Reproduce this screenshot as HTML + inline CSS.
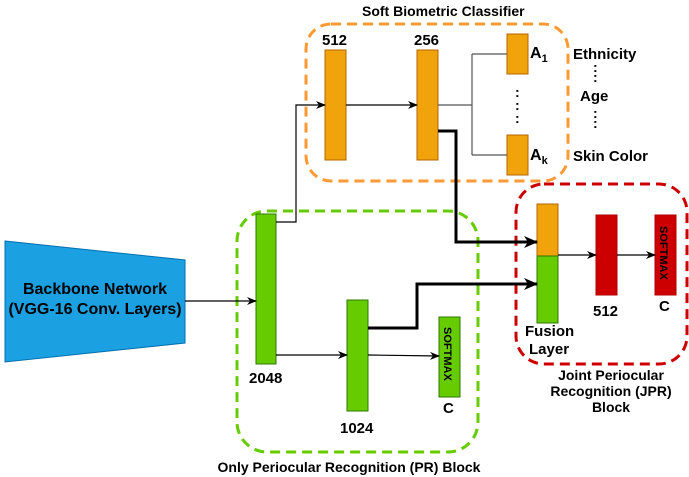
<!DOCTYPE html>
<html><head><style>body{margin:0;background:#fff}svg{display:block;font-family:"Liberation Sans",sans-serif;font-weight:bold}</style></head><body>
<svg width="689" height="477" viewBox="0 0 689 477" xmlns="http://www.w3.org/2000/svg">
<defs><marker id="a" markerWidth="10" markerHeight="8" refX="9" refY="4" orient="auto" markerUnits="userSpaceOnUse"><path d="M0,0 L10,4 L0,8 L3,4z" fill="#000"/></marker>
<marker id="b" markerWidth="14" markerHeight="12" refX="13" refY="6" orient="auto" markerUnits="userSpaceOnUse"><path d="M0,0 L14,6 L0,12 L4,6z" fill="#000"/></marker></defs>
<rect x="306" y="24" width="262" height="157" rx="25" fill="none" stroke="#ff9933" stroke-width="3" stroke-dasharray="10,6"/>
<rect x="237" y="211" width="241" height="241" rx="30" fill="none" stroke="#66cc00" stroke-width="3" stroke-dasharray="10,6"/>
<rect x="516" y="184" width="171" height="180" rx="28" fill="none" stroke="#cc0000" stroke-width="3" stroke-dasharray="10,6"/>
<polygon points="5,241 185,260 185,343 5,362" fill="#1ba1e2" stroke="#006eaf"/>
<text x="95" y="294" font-size="16" text-anchor="middle">Backbone Network</text>
<text x="95" y="314" font-size="16" text-anchor="middle">(VGG-16 Conv. Layers)</text>
<g stroke="#b46504" fill="#f0a30a"><rect x="325" y="50" width="21" height="110"/><rect x="417" y="50" width="21" height="110"/><rect x="507" y="34" width="21" height="40"/><rect x="507" y="135" width="21" height="40"/><rect x="537" y="204" width="21" height="52"/></g>
<g stroke="#2d7600" fill="#66cc00"><rect x="256" y="214" width="20" height="150"/><rect x="347" y="300" width="21" height="111"/><rect x="439" y="317" width="21" height="80"/><rect x="537" y="256" width="21" height="67"/></g>
<g stroke="#b20000" fill="#cc0000"><rect x="596" y="215" width="21" height="80"/><rect x="655" y="215" width="21" height="80"/></g>
<g fill="none" stroke="#000" stroke-width="1.2">
<path d="M185,301 L256,301" marker-end="url(#a)"/>
<path d="M276,222 L296,222 L296,105 L325,105" marker-end="url(#a)"/>
<path d="M346,105 L417,105" marker-end="url(#a)"/>
<path d="M438,105 L472,105 M472,54 L472,155 M472,54 L507,54 M472,155 L507,155" stroke="#555"/>
<path d="M276,355 L347,355" marker-end="url(#a)"/>
<path d="M368,355 L439,356" marker-end="url(#a)"/>
<path d="M558,255 L596,255" marker-end="url(#a)"/>
<path d="M617,255 L655,255" marker-end="url(#a)"/>
</g>
<g fill="none" stroke="#000" stroke-width="3">
<path d="M438,131 L456,131 L456,242 L537,242" marker-end="url(#b)"/>
<path d="M368,328 L417,328 L417,284 L537,284" marker-end="url(#b)"/>
</g>
<g font-size="14" fill="#000">
<text x="362" y="16">Soft Biometric Classifier</text>
<text x="322" y="45" font-size="15">512</text><text x="414" y="45" font-size="15">256</text>
<text x="530" y="58" font-size="16">A<tspan font-size="11" dy="4">1</tspan></text>
<text x="530" y="160" font-size="16">A<tspan font-size="11" dy="4">k</tspan></text>
<text x="573" y="59" font-size="15">Ethnicity</text>
<text x="580" y="101" font-size="15">Age</text>
<text x="573" y="161" font-size="15">Skin Color</text>
<text x="249" y="383" font-size="15">2048</text>
<text x="340" y="433" font-size="15">1024</text>
<text x="443" y="413" font-size="15">C</text>
<text x="593" y="316" font-size="15">512</text>
<text x="659" y="311" font-size="15">C</text>
<text x="525" y="336" font-size="15">Fusion</text>
<text x="529" y="354" font-size="15">Layer</text>
<text x="611" y="380" text-anchor="middle" font-size="14">Joint Periocular</text>
<text x="611" y="396" text-anchor="middle" font-size="14">Recognition (JPR)</text>
<text x="611" y="412" text-anchor="middle" font-size="14">Block</text>
<text x="349" y="472" text-anchor="middle" font-size="14">Only Periocular Recognition (PR) Block</text>
<text transform="translate(444,327) rotate(90)" font-size="11">SOFTMAX</text>
<text transform="translate(660,226) rotate(90)" font-size="11">SOFTMAX</text>
<text x="593" y="72" font-size="14">:</text><text x="593" y="82" font-size="14">:</text>
<text x="593" y="118" font-size="14">:</text><text x="593" y="128" font-size="14">:</text>
<text x="515" y="97" font-size="14">:</text><text x="515" y="110" font-size="14">:</text><text x="515" y="123" font-size="14">:</text>
</g>
</svg>
</body></html>
